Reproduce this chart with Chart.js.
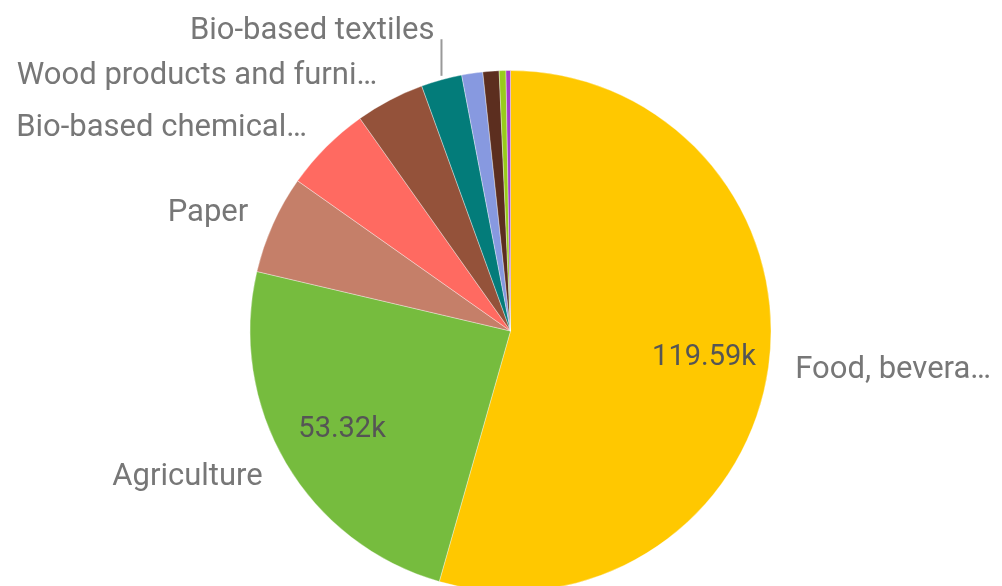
<!DOCTYPE html>
<html>
<head>
<meta charset="utf-8">
<script src="https://cdn.jsdelivr.net/npm/chart.js@4.4.1/dist/chart.umd.min.js"></script>
<style>
  html, body { margin: 0; padding: 0; background: #fff; overflow: hidden; }
  #wrap { width: 1002px; height: 600px; position: relative; }
</style>
</head>
<body>
<div id="wrap"><canvas id="pieChart"></canvas></div>
<script>
// Sectors, clockwise from 12 o'clock
var sectors = [
    'Food, beverage and tobacco',
    'Agriculture',
    'Paper',
    'Bio-based chemicals, pharmaceuticals, plastics and rubber',
    'Wood products and furniture',
    'Bio-based textiles',
    'Forestry',
    'Liquid biofuels',
    'Fishing',
    'Bio-based electricity'
];
// Shown outside the pie (null = no label)
var shortLabels = [
    'Food, bevera\u2026',
    'Agriculture',
    'Paper',
    'Bio-based chemical\u2026',
    'Wood products and furni\u2026',
    'Bio-based textiles',
    null, null, null, null
];
var values = [119590, 53320, 13430, 11900, 9400, 5560, 2870, 2200, 920, 610];
var sliceColors = ['#FFC800', '#76BC3E', '#C57F69', '#FF6A61', '#94523A',
                   '#037C7A', '#8799E0', '#5C2E1F', '#98CB1C', '#A43CC9'];

var labelFont = '31px Roboto, "Liberation Sans", sans-serif';
var valueFont = '29px Roboto, "Liberation Sans", sans-serif';

function formatK(v) {
    return (v / 1000).toFixed(2) + 'k';
}

// Draw value labels inside big slices and category labels outside
var pieLabels = {
    id: 'pieLabels',
    afterDatasetsDraw: function (chart) {
        var ctx = chart.ctx;
        var arcs = chart.getDatasetMeta(0).data;
        var total = values.reduce(function (a, b) { return a + b; }, 0);
        var outer = [];

        ctx.save();
        ctx.textBaseline = 'middle';

        arcs.forEach(function (arc, i) {
            var p = arc.getProps(['x', 'y', 'startAngle', 'endAngle', 'outerRadius']);
            var mid = (p.startAngle + p.endAngle) / 2;

            // values inside the two large slices
            if (values[i] / total > 0.2) {
                var r1 = p.outerRadius * 0.75;
                ctx.font = valueFont;
                ctx.fillStyle = '#555';
                ctx.textAlign = 'center';
                ctx.fillText(formatK(values[i]), p.x + Math.cos(mid) * r1, p.y + Math.sin(mid) * r1);
            }

            if (shortLabels[i]) {
                var r2 = p.outerRadius + 27;
                outer.push({
                    text: shortLabels[i],
                    x: p.x + Math.cos(mid) * r2,
                    y: p.y + Math.sin(mid) * r2,
                    y0: p.y + Math.sin(mid) * r2,
                    ex: p.x + Math.cos(mid) * p.outerRadius,
                    ey: p.y + Math.sin(mid) * p.outerRadius,
                    left: Math.cos(mid) < 0
                });
            }
        });

        // push left side labels upward so they do not overlap
        var leftSide = outer.filter(function (l) { return l.left; })
            .sort(function (a, b) { return b.y - a.y; });
        for (var k = 1; k < leftSide.length; k++) {
            if (leftSide[k - 1].y - leftSide[k].y < 45) {
                leftSide[k].y = leftSide[k - 1].y - 45;
            }
        }

        ctx.font = labelFont;
        ctx.fillStyle = '#777';
        outer.forEach(function (l) {
            if (Math.abs(l.y - l.y0) > 4) {
                // moved label: leader line from slice edge
                ctx.strokeStyle = '#999';
                ctx.lineWidth = 2;
                ctx.beginPath();
                ctx.moveTo(l.ex, l.ey - 4);
                ctx.lineTo(l.ex, l.y + 8);
                ctx.stroke();
                ctx.textAlign = 'right';
                ctx.fillText(l.text, l.ex - 7, l.y);
            } else {
                ctx.textAlign = l.left ? 'right' : 'left';
                ctx.fillText(l.text, l.x, l.y);
            }
        });
        ctx.restore();
    }
};

var ctx = document.getElementById('pieChart').getContext('2d');
var pieChart = new Chart(ctx, {
    type: 'pie',
    data: {
        labels: sectors,
        datasets: [{
            data: values,
            backgroundColor: sliceColors,
            borderColor: 'rgba(255, 255, 255, 0.35)',
            borderWidth: 1
        }]
    },
    options: {
        responsive: true,
        maintainAspectRatio: false,
        animation: false,
        layout: {
            padding: { top: 70, bottom: 8, left: 19, right: 0 }
        },
        plugins: {
            legend: { display: false },
            tooltip: { enabled: false }
        }
    },
    plugins: [pieLabels]
});
</script>
</body>
</html>
